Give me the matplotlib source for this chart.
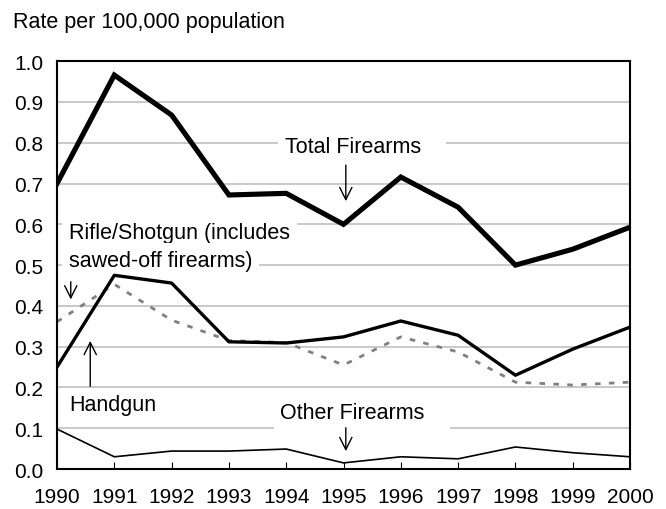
import matplotlib
matplotlib.use("Agg")
import matplotlib.pyplot as plt

plt.rcParams['font.family'] = ['Liberation Sans', 'DejaVu Sans']

years = list(range(1990, 2001))
total = [0.70, 0.966, 0.868, 0.672, 0.676, 0.60, 0.716, 0.642, 0.50, 0.539, 0.593]
handgun = [0.25, 0.475, 0.456, 0.312, 0.309, 0.324, 0.363, 0.328, 0.23, 0.294, 0.348]
rifle = [0.361, 0.453, 0.365, 0.315, 0.31, 0.255, 0.324, 0.287, 0.213, 0.206, 0.213]
other = [0.098, 0.03, 0.044, 0.044, 0.049, 0.015, 0.03, 0.025, 0.054, 0.04, 0.03]
yticks = [0.0, 0.1, 0.2, 0.3, 0.4, 0.5, 0.6, 0.7, 0.8, 0.9, 1.0]

fig = plt.figure(figsize=(6.66, 5.10), dpi=100)
ax = fig.add_axes([0.0856, 0.0784, 0.8604, 0.7996])

for v in yticks[1:-1]:
    ax.axhline(v, color="#c0c0c0", lw=1.2, zorder=1)

ax.plot(years, other, color="black", lw=1.2, zorder=4)
ax.plot(years, rifle, color="#808080", lw=2, dashes=(2, 3), zorder=4)
ax.plot(years, handgun, color="black", lw=2.4, zorder=5)
ax.plot(years, total, color="black", lw=3.7, zorder=5, solid_joinstyle="miter")

ax.set_xlim(1990, 2000)
ax.set_ylim(0, 1.0)
ax.set_xticks(years)
ax.set_yticks(yticks)
ax.set_yticklabels([f"{v:.1f}" for v in yticks])
ax.tick_params(axis="x", direction="in", length=5, labelsize=15, pad=13)
ax.tick_params(axis="y", length=0, labelsize=15, pad=10)
for s in ax.spines.values():
    s.set_linewidth(1.5)
    s.set_zorder(6)

fs = 15.5
arrow = dict(arrowstyle="->", color="black", lw=1, mutation_scale=22)

# labels with white boxes that hide the gridlines behind them
ax.text(1993.98, 0.778, "Total Firearms   ", fontsize=fs, ha="left", va="baseline",
        bbox=dict(facecolor="white", edgecolor="none", pad=5), zorder=3)
ax.annotate("", xy=(1995.04, 0.65), xytext=(1995.04, 0.752), arrowprops=arrow, zorder=3)

ax.text(1990.21, 0.566, "Rifle/Shotgun (includes", fontsize=fs, ha="left", va="baseline",
        bbox=dict(facecolor="white", edgecolor="none", pad=5), zorder=3)
ax.text(1990.21, 0.4975, "sawed-off firearms)", fontsize=fs, ha="left", va="baseline",
        bbox=dict(facecolor="white", edgecolor="none", pad=5), zorder=3)
ax.annotate("", xy=(1990.24, 0.409), xytext=(1990.24, 0.466), arrowprops=arrow, zorder=3)

ax.text(1990.21, 0.145, "Handgun", fontsize=fs, ha="left", va="baseline",
        bbox=dict(facecolor="white", edgecolor="none", pad=4), zorder=3)
ax.annotate("", xy=(1990.58, 0.321), xytext=(1990.58, 0.196), arrowprops=arrow, zorder=3)

ax.text(1993.90, 0.124, "Other Firearms   ", fontsize=fs, ha="left", va="baseline",
        bbox=dict(facecolor="white", edgecolor="none", pad=5), zorder=3)
ax.annotate("", xy=(1995.04, 0.037), xytext=(1995.04, 0.108), arrowprops=arrow, zorder=3)

fig.text(0.019, 0.9445, "Rate per 100,000 population", fontsize=fs, ha="left", va="baseline")

fig.savefig("out.png", dpi=100)
